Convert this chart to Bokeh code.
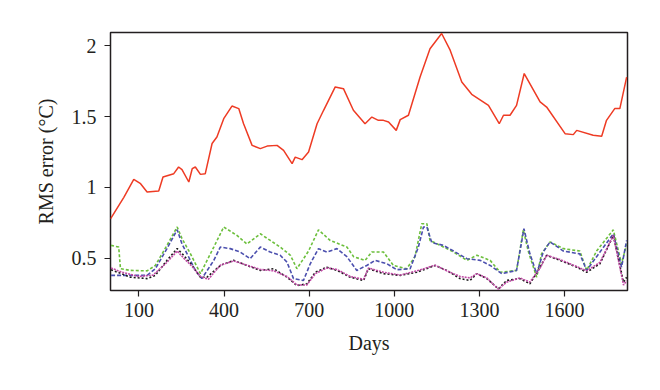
from bokeh.plotting import figure
from bokeh.models import Range1d, FixedTicker
from bokeh.embed import file_html
from bokeh.resources import INLINE

# ---- data ----
red_days = [0, 47, 82, 106, 129, 170, 185, 223, 240, 252, 276, 288, 299, 317, 334, 358, 375, 399, 428, 452,
            469, 499, 528, 552, 587, 610, 640, 651, 675, 698, 728, 751, 792, 821, 856, 897, 921, 944, 962, 980,
            1007, 1021, 1050, 1091, 1126, 1167, 1197, 1238, 1273, 1332, 1370, 1385, 1408, 1431, 1458, 1514,
            1537, 1602, 1631, 1643, 1701, 1731, 1748, 1777, 1795, 1819]
red_vals = [0.778, 0.93, 1.057, 1.026, 0.967, 0.974, 1.073, 1.097, 1.144, 1.125, 1.038, 1.132, 1.144, 1.092,
            1.097, 1.31, 1.356, 1.486, 1.575, 1.557, 1.45, 1.297, 1.274, 1.292, 1.297, 1.262, 1.168, 1.214,
            1.196, 1.25, 1.45, 1.545, 1.71, 1.698, 1.545, 1.45, 1.497, 1.474, 1.474, 1.462, 1.403, 1.479, 1.51,
            1.78, 1.98, 2.088, 1.97, 1.745, 1.658, 1.58, 1.45, 1.51, 1.51, 1.58, 1.805, 1.604, 1.568, 1.38,
            1.373, 1.403, 1.368, 1.361, 1.474, 1.557, 1.557, 1.78]

green_days = [2, 29, 35, 70, 129, 158, 199, 235, 252, 282, 317, 364, 399, 446, 481, 528, 563, 598, 634, 657,
              698, 733, 774, 833, 857, 897, 921, 962, 997, 1044, 1073, 1097, 1115, 1126, 1162, 1209, 1256,
              1291, 1338, 1373, 1431, 1455, 1472, 1502, 1519, 1549, 1596, 1654, 1678, 1713, 1772, 1801, 1819]
green_vals = [0.59, 0.578, 0.425, 0.413, 0.41, 0.448, 0.59, 0.72, 0.638, 0.53, 0.39, 0.578, 0.72, 0.66, 0.60,
              0.672, 0.625, 0.578, 0.52, 0.425, 0.55, 0.70, 0.625, 0.578, 0.51, 0.484, 0.543, 0.543, 0.448,
              0.425, 0.51, 0.743, 0.743, 0.625, 0.59, 0.543, 0.484, 0.52, 0.484, 0.40, 0.413, 0.70, 0.55,
              0.365, 0.53, 0.615, 0.567, 0.55, 0.413, 0.55, 0.70, 0.46, 0.60]

blue_days = [2, 70, 129, 158, 199, 235, 252, 270, 299, 322, 364, 387, 422, 457, 492, 528, 563, 598, 622, 645,
             680, 704, 733, 762, 798, 833, 868, 903, 933, 974, 1009, 1056, 1085, 1103, 1115, 1132, 1173, 1209,
             1256, 1303, 1338, 1379, 1431, 1457, 1478, 1502, 1525, 1549, 1596, 1654, 1678, 1725, 1772, 1801,
             1819]
blue_vals = [0.378, 0.378, 0.378, 0.425, 0.567, 0.70, 0.60, 0.53, 0.413, 0.355, 0.484, 0.578, 0.567, 0.543,
             0.496, 0.578, 0.543, 0.52, 0.472, 0.355, 0.342, 0.46, 0.567, 0.543, 0.567, 0.51, 0.413, 0.448,
             0.484, 0.46, 0.418, 0.425, 0.578, 0.72, 0.72, 0.61, 0.59, 0.55, 0.496, 0.484, 0.448, 0.39, 0.413,
             0.708, 0.53, 0.39, 0.543, 0.615, 0.55, 0.53, 0.413, 0.543, 0.672, 0.436, 0.625]

black_days = [2, 70, 129, 158, 199, 235, 258, 288, 317, 340, 387, 434, 481, 528, 575, 622, 657, 692, 722, 762,
              798, 845, 892, 909, 962, 1021, 1080, 1144, 1185, 1232, 1267, 1291, 1326, 1367, 1396, 1443, 1478,
              1514, 1537, 1584, 1643, 1678, 1725, 1772, 1808, 1819]
black_vals = [0.418, 0.365, 0.355, 0.378, 0.484, 0.567, 0.52, 0.448, 0.365, 0.365, 0.448, 0.484, 0.448, 0.413,
              0.425, 0.365, 0.306, 0.318, 0.40, 0.436, 0.413, 0.365, 0.342, 0.425, 0.39, 0.378, 0.40, 0.448,
              0.413, 0.355, 0.342, 0.39, 0.355, 0.283, 0.342, 0.355, 0.318, 0.436, 0.52, 0.484, 0.436, 0.40,
              0.46, 0.66, 0.33, 0.365]

magenta_days = [2, 40, 100, 150, 199, 235, 258, 288, 317, 345, 387, 434, 481, 528, 575, 622, 657, 692, 722,
                762, 798, 845, 892, 909, 962, 1021, 1080, 1144, 1185, 1232, 1267, 1291, 1326, 1367, 1396,
                1443, 1478, 1514, 1537, 1584, 1643, 1678, 1725, 1772, 1808, 1819]
magenta_vals = [0.43, 0.40, 0.37, 0.38, 0.47, 0.55, 0.50, 0.44, 0.37, 0.35, 0.45, 0.48, 0.45, 0.42, 0.41,
                0.37, 0.31, 0.31, 0.39, 0.43, 0.42, 0.37, 0.35, 0.43, 0.40, 0.38, 0.41, 0.45, 0.41, 0.37, 0.36,
                0.39, 0.36, 0.28, 0.33, 0.36, 0.33, 0.43, 0.52, 0.49, 0.44, 0.41, 0.47, 0.66, 0.31, 0.34]

x_ticks = [100, 400, 700, 1000, 1300, 1600]
y_ticks = [0.5, 1, 1.5, 2]
y_tick_labels = ["0.5", "1", "1.5", "2"]

FONT = "Liberation Serif"

p = figure(width=652, height=380, output_backend="svg", toolbar_location=None,
           x_range=Range1d(0, 1822), y_range=Range1d(0.271, 2.095),
           min_border_left=110, min_border_right=25, min_border_top=32, min_border_bottom=90)

p.xgrid.visible = False
p.ygrid.visible = False
p.outline_line_color = "#231f20"
p.outline_line_width = 1.5
p.background_fill_color = "white"
p.border_fill_color = "white"

p.line(green_days, green_vals, line_color="#6cbf3c", line_width=1.6, line_dash="3 2")
p.line(blue_days, blue_vals, line_color="#4b4fae", line_width=1.6, line_dash="4 2")
p.line(black_days, black_vals, line_color="#1a1a1a", line_width=1.6, line_dash="2 2")
p.line(magenta_days, magenta_vals, line_color="#c04aa5", line_width=1.6, line_dash="2 1")
p.line(red_days, red_vals, line_color="#ee3b24", line_width=1.5)

for ax in (p.xaxis[0], p.yaxis[0]):
    ax.axis_line_color = None
    ax.major_tick_in = 0
    ax.major_tick_out = 6
    ax.major_tick_line_color = "#231f20"
    ax.major_tick_line_width = 1.2
    ax.minor_tick_line_color = None
    ax.major_label_text_font = FONT
    ax.major_label_text_font_size = "20px"
    ax.major_label_text_color = "#231f20"
    ax.axis_label_text_font = FONT
    ax.axis_label_text_font_size = "20px"
    ax.axis_label_text_font_style = "normal"
    ax.axis_label_text_color = "#231f20"

p.xaxis[0].ticker = FixedTicker(ticks=x_ticks)
p.yaxis[0].ticker = FixedTicker(ticks=y_ticks)
p.yaxis[0].major_label_overrides = {t: s for t, s in zip(y_ticks, y_tick_labels)}
p.xaxis[0].axis_label = "Days"
p.yaxis[0].axis_label = "RMS error (°C)"
p.xaxis[0].major_label_standoff = 6
p.yaxis[0].major_label_standoff = 8
p.xaxis[0].axis_label_standoff = 12
p.yaxis[0].axis_label_standoff = 12

open("out.html", "w").write(file_html(p, INLINE))
